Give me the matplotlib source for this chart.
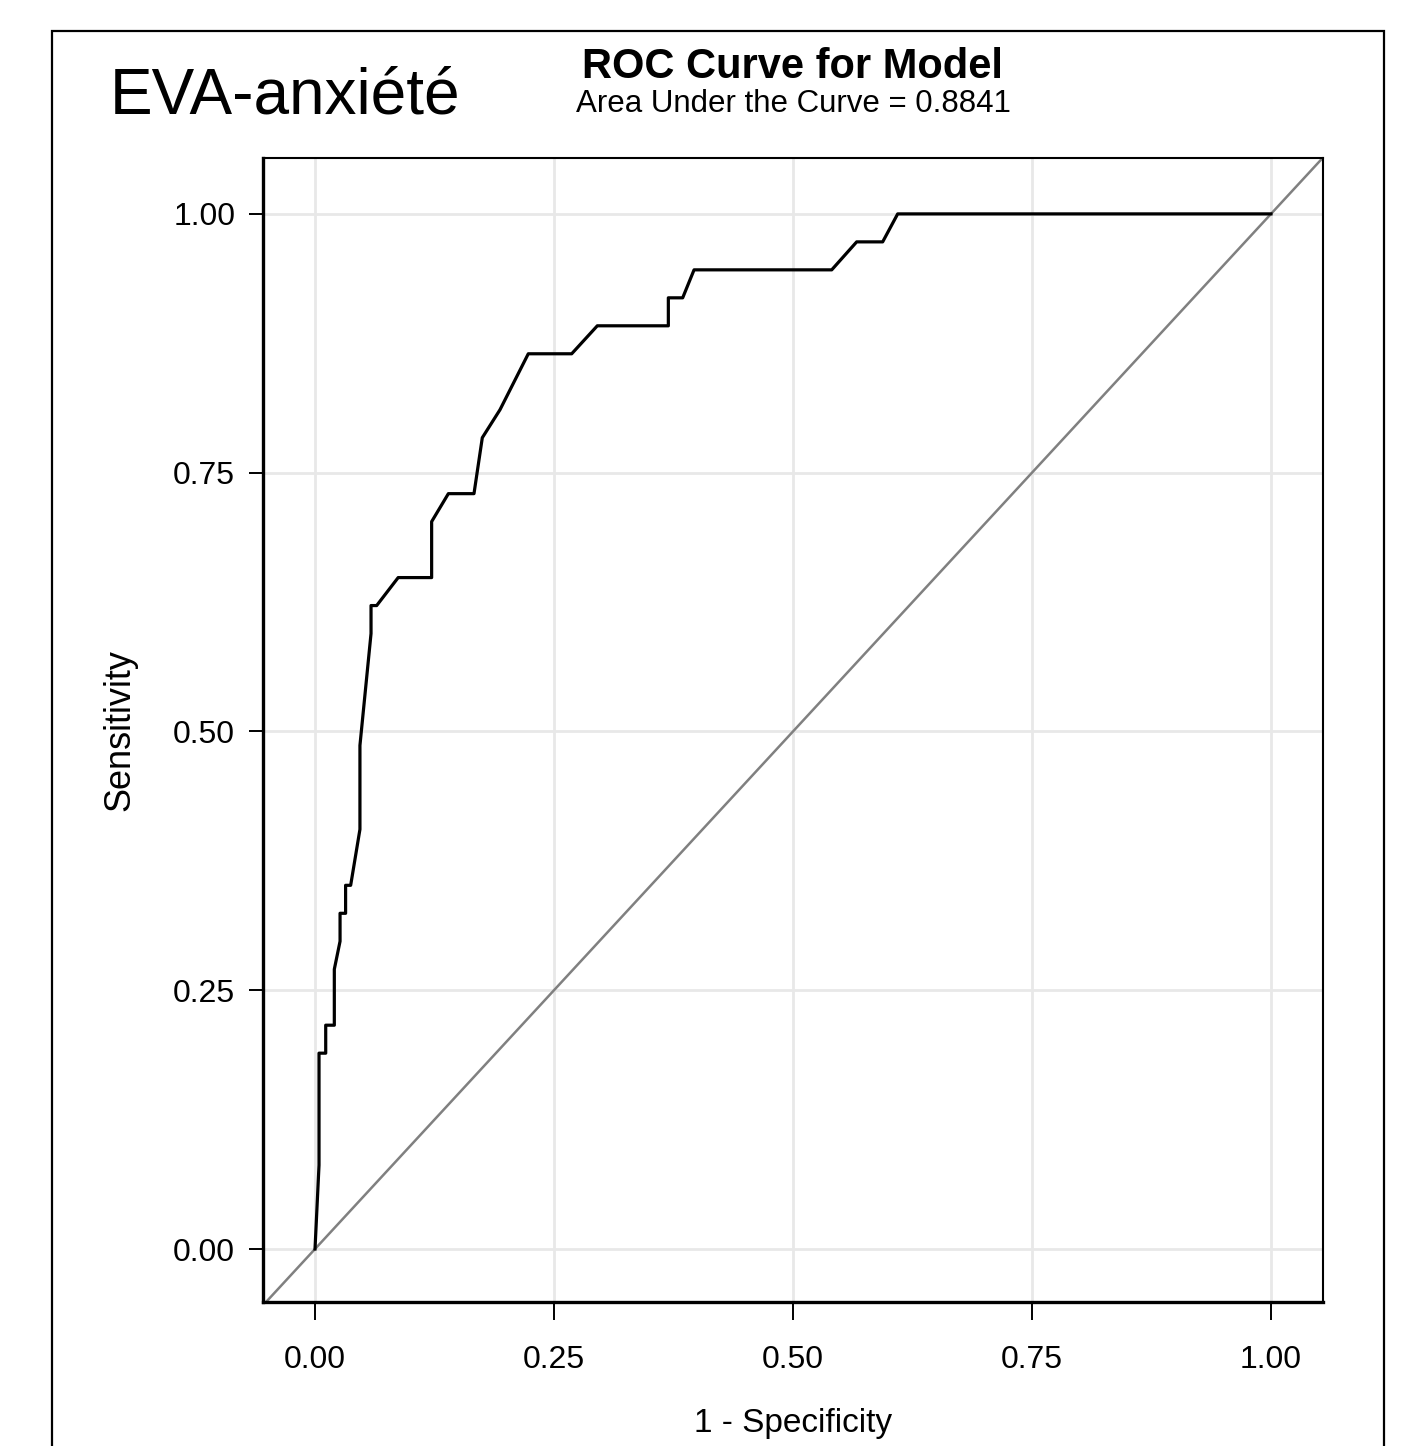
import matplotlib
matplotlib.use("Agg")
import matplotlib.pyplot as plt
from matplotlib.patches import Rectangle

plt.rcParams['font.family'] = ['Liberation Sans', 'DejaVu Sans']

# ROC curve: 1 - specificity, and sensitivity as count of 37 positives
fpr = [0.0, 0.0042, 0.0042, 0.0112, 0.0112, 0.0202, 0.0202, 0.0262, 0.0262,
       0.032, 0.032, 0.0373, 0.047, 0.047, 0.0586, 0.0586, 0.0645, 0.087,
       0.122, 0.122, 0.1395, 0.1663, 0.175, 0.1935, 0.2231, 0.2685, 0.2953,
       0.3696, 0.3696, 0.3846, 0.3965, 0.5405, 0.5666, 0.5938, 0.6095, 1.0]
tp_count = [0, 3, 7, 7, 8, 8, 10, 11, 12,
            12, 13, 13, 15, 18, 22, 23, 23, 24,
            24, 26, 27, 27, 29, 30, 32, 32, 33,
            33, 34, 34, 35, 35, 36, 36, 37, 37]
n_pos = 37
sens = [c / n_pos for c in tp_count]

ticks = [0.0, 0.25, 0.5, 0.75, 1.0]
tick_labels = ["0.00", "0.25", "0.50", "0.75", "1.00"]
auc_text = "Area Under the Curve = 0.8841"

W, H = 1412, 1446
fig = plt.figure(figsize=(W / 100, H / 100), dpi=100)
fig.patch.set_facecolor("white")

# outer frame
fig.patches.append(Rectangle((52 / W, -0.05), (1384 - 52) / W, 1.05 - 31 / H,
                             transform=fig.transFigure, fill=False,
                             edgecolor="black", linewidth=1.6, clip_on=False))

ax = fig.add_axes([263 / W, 1 - 1302 / H, (1323 - 263) / W, (1302 - 158) / H])
ax.set_xlim(-0.0544, 1.0544)
ax.set_ylim(-0.0512, 1.054)

ax.set_xticks(ticks)
ax.set_yticks(ticks)
ax.set_xticklabels(tick_labels, fontsize=23)
ax.set_yticklabels(tick_labels, fontsize=23)
ax.tick_params(axis="x", direction="out", length=13, width=1.4, pad=18)
ax.tick_params(axis="y", direction="out", length=10, width=1.4, pad=10)
ax.grid(True, color="#e8e8e8", linewidth=2.0)
ax.set_axisbelow(True)

for side in ["left", "bottom"]:
    ax.spines[side].set_linewidth(2.4)
for side in ["top", "right"]:
    ax.spines[side].set_linewidth(1.5)

ax.axline((0, 0), (1, 1), color="#808080", linewidth=1.8, zorder=2)
ax.plot(fpr, sens, color="black", linewidth=2.3, zorder=3)

ax.set_xlabel("1 - Specificity", fontsize=24, labelpad=24)
ax.set_ylabel("Sensitivity", fontsize=26, labelpad=26)

fig.text(793 / W, 1 - 67 / H, "ROC Curve for Model", fontsize=30,
         fontweight="bold", ha="center", va="center")
fig.text(793 / W, 1 - 104 / H, auc_text, fontsize=22.5, ha="center", va="center")
fig.text(110 / W, 1 - 97 / H, "EVA-anxiété", fontsize=46, ha="left", va="center")

fig.savefig("out.png", dpi=100, facecolor="white")
